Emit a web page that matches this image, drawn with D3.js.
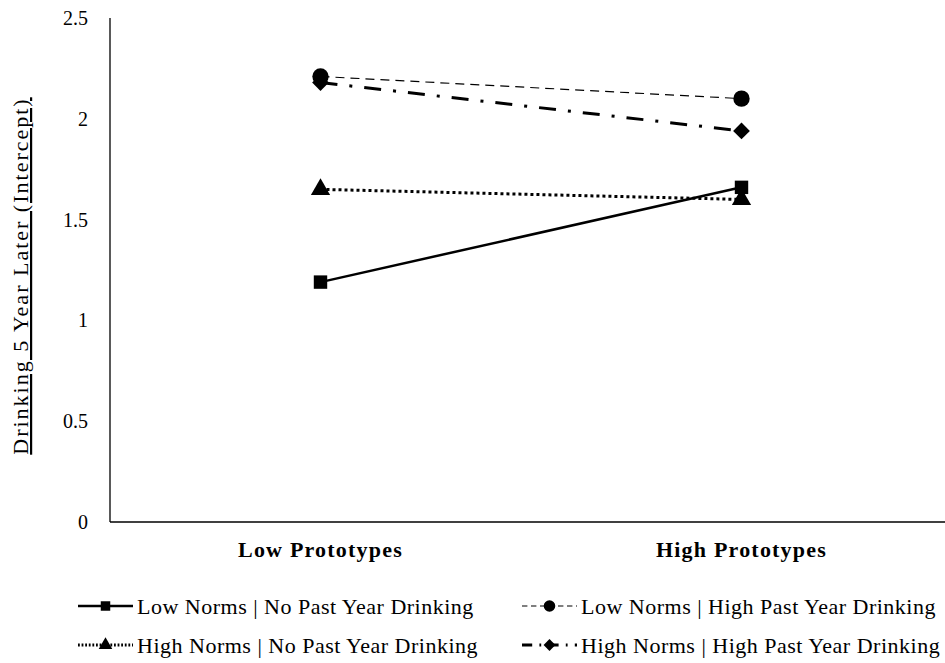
<!DOCTYPE html>
<html>
<head>
<meta charset="utf-8">
<script src="https://cdn.jsdelivr.net/npm/d3@7"></script>
<style>
  body { margin: 0; background: #fff; }
  svg { display: block; }
</style>
</head>
<body>
<div id="chart"></div>
<script>
// categories on the x axis
var categories = ["Low Prototypes", "High Prototypes"];

// series names and values
var seriesNames = [
  "Low Norms | No Past Year Drinking",
  "Low Norms | High Past Year Drinking",
  "High Norms | No Past Year Drinking",
  "High Norms | High Past Year Drinking"
];
var lowNormsNoPast = [1.19, 1.66];
var lowNormsHighPast = [2.21, 2.10];
var highNormsNoPast = [1.65, 1.60];
var highNormsHighPast = [2.18, 1.94];

var yTicks = [0, 0.5, 1, 1.5, 2, 2.5];

var width = 945, height = 663;
var margin = {top: 18, right: -7, bottom: 141, left: 110};
var font = "'Liberation Serif', 'Tinos', 'Times New Roman', 'Nimbus Roman', 'FreeSerif', 'Noto Serif', 'DejaVu Serif', 'Liberation Sans', serif";

var svg = d3.select("#chart").append("svg")
  .attr("width", width)
  .attr("height", height)
  .attr("font-family", font);

var x = d3.scaleBand()
  .domain(categories)
  .range([margin.left, width - margin.right]);

var y = d3.scaleLinear()
  .domain([0, 2.5])
  .range([height - margin.bottom, margin.top]);

// axes: just the left and bottom lines, no tick marks
svg.append("line")
  .attr("x1", margin.left).attr("x2", margin.left)
  .attr("y1", y(2.5)).attr("y2", y(0))
  .attr("stroke", "#000").attr("stroke-width", 1.3);
svg.append("line")
  .attr("x1", margin.left).attr("x2", width)
  .attr("y1", y(0)).attr("y2", y(0))
  .attr("stroke", "#000").attr("stroke-width", 1.3);

svg.selectAll(".ytick")
  .data(yTicks)
  .enter().append("text")
  .attr("class", "ytick")
  .attr("x", 88)
  .attr("y", function(d) { return y(d); })
  .attr("dy", "0.35em")
  .attr("text-anchor", "end")
  .attr("font-size", 20)
  .text(function(d) { return d; });

svg.selectAll(".xlab")
  .data(categories)
  .enter().append("text")
  .attr("class", "xlab")
  .attr("x", function(d) { return x(d) + x.bandwidth() / 2; })
  .attr("y", 557)
  .attr("text-anchor", "middle")
  .attr("font-size", 22)
  .attr("letter-spacing", 1.2)
  .attr("font-weight", "bold")
  .text(function(d) { return d; });

// y axis title
svg.append("text")
  .attr("transform", "translate(28,276) rotate(-90)")
  .attr("text-anchor", "middle")
  .attr("font-size", 22)
  .attr("letter-spacing", 2)
  .attr("text-decoration", "underline")
  .text("Drinking 5 Year Later (Intercept)");

// diamond in the picture is a square turned 45 degrees
var series = [
  {name: seriesNames[0], values: lowNormsNoPast, dash: null, width: 2.5, symbol: d3.symbolSquare, size: 180, rot: 0},
  {name: seriesNames[1], values: lowNormsHighPast, dash: "9,6", width: 1.2, symbol: d3.symbolCircle, size: 210, rot: 0},
  {name: seriesNames[2], values: highNormsNoPast, dash: "3,3", width: 3, symbol: d3.symbolTriangle, size: 160, rot: 0},
  {name: seriesNames[3], values: highNormsHighPast, dash: "17,12,3,12", width: 3, symbol: d3.symbolSquare, size: 140, rot: 45}
];

var line = d3.line()
  .x(function(d, i) { return x(categories[i]) + x.bandwidth() / 2; })
  .y(function(d) { return y(d); });

var g = svg.selectAll(".series")
  .data(series)
  .enter().append("g")
  .attr("class", "series");

g.append("path")
  .attr("d", function(d) { return line(d.values); })
  .attr("fill", "none")
  .attr("stroke", "#000")
  .attr("stroke-width", function(d) { return d.width; })
  .attr("stroke-dasharray", function(d) { return d.dash; });

g.selectAll(".pt")
  .data(function(d) { return d.values.map(function(v, i) { return {v: v, i: i, s: d}; }); })
  .enter().append("path")
  .attr("class", "pt")
  .attr("transform", function(d) {
    return "translate(" + (x(categories[d.i]) + x.bandwidth() / 2) + "," + y(d.v) + ") rotate(" + d.s.rot + ")";
  })
  .attr("d", function(d) { return d3.symbol().type(d.s.symbol).size(d.s.size)(); })
  .attr("fill", "#000");

// legend, two columns by two rows
var legendPos = [[78, 606], [522, 606], [78, 645], [522, 645]];
var legend = svg.selectAll(".legend")
  .data(series)
  .enter().append("g")
  .attr("class", "legend")
  .attr("transform", function(d, i) { return "translate(" + legendPos[i][0] + "," + legendPos[i][1] + ")"; });

legend.append("line")
  .attr("x1", 0).attr("x2", 55)
  .attr("stroke", "#000")
  .attr("stroke-width", function(d) { return d.width; })
  .attr("stroke-dasharray", function(d) { return d.dash ? d.dash.split(",").map(function(v) { return v * 0.6; }).join(",") : null; });

legend.append("path")
  .attr("transform", function(d) { return "translate(27.5,0) rotate(" + d.rot + ")"; })
  .attr("d", function(d) { return d3.symbol().type(d.symbol).size(d.size * 0.5)(); })
  .attr("fill", "#000");

legend.append("text")
  .attr("x", 59)
  .attr("dy", "0.35em")
  .attr("font-size", 22)
  .attr("letter-spacing", 0.5)
  .text(function(d) { return d.name; });
</script>
</body>
</html>
